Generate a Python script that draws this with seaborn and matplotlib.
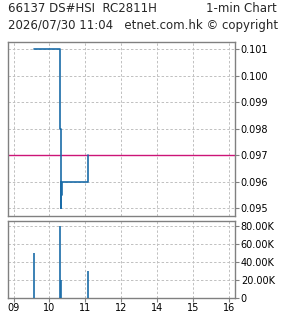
import matplotlib
matplotlib.use("Agg")
import matplotlib.pyplot as plt
import seaborn as sns
import pandas as pd
import numpy as np
from matplotlib.ticker import FuncFormatter, FixedLocator

sns.set_theme(style="white")
plt.rcParams['font.family'] = ['DejaVu Sans']

# ---- data ----
price_times = ["09:34", "10:17", "10:19", "10:19", "10:20", "10:21", "11:04", "11:04"]
price_values = [0.101, 0.098, 0.095, 0.096, 0.0955, 0.096, 0.097, 0.097]
vol_times = ["09:34", "10:18", "10:20", "11:04"]
vol_values = [50000, 80000, 20000, 30000]
prev_close = 0.097
x_tick_labels = ["09", "10", "11", "12", "14", "15", "16"]
price_ticks = [0.095, 0.096, 0.097, 0.098, 0.099, 0.100, 0.101]
vol_ticks = [0, 20000, 40000, 60000, 80000]

def to_pos(t):
    h, m = map(int, t.split(":"))
    pos = h - 9 + m / 60.0
    if h >= 13:
        pos -= 1
    return pos

price_df = pd.DataFrame({"x": [to_pos(t) for t in price_times], "price": price_values})
vol_df = pd.DataFrame({"x": [to_pos(t) for t in vol_times], "vol": vol_values})

blue = "#1a6ca8"
grid_c = "#c0c0c0"
spine_c = "#808080"

fig = plt.figure(figsize=(2.85, 3.18), dpi=100)
ax1 = fig.add_axes([8.3/285, 1-216/318, (235.3-8.3)/285, (216-42.3)/318])
ax2 = fig.add_axes([8.3/285, 1-297.7/318, (235.3-8.3)/285, (297.7-221)/318])

xlim = (-0.145, 6.18)

# price panel
ax1.axhline(prev_close, color="#cc1477", linewidth=1.0, zorder=2)
sns.lineplot(data=price_df, x="x", y="price", ax=ax1, color=blue,
             drawstyle="steps-post", linewidth=1.2, zorder=3, estimator=None, sort=False)
ax1.set_ylim(0.09471, 0.101264)
ax1.yaxis.set_major_locator(FixedLocator(price_ticks))
ax1.yaxis.set_major_formatter(FuncFormatter(lambda v, p: f"{v:.3f}"))

# volume panel
ax2.vlines(vol_df["x"], 0, vol_df["vol"], color=blue, linewidth=1.2, zorder=3)
ax2.set_ylim(0, 85200)
ax2.yaxis.set_major_locator(FixedLocator(vol_ticks))
ax2.yaxis.set_major_formatter(FuncFormatter(lambda v, p: "0" if v == 0 else f"{v/1000:.2f}K"))

for ax in (ax1, ax2):
    ax.set_xlim(*xlim)
    ax.set_xticks(range(len(x_tick_labels)))
    ax.grid(True, color=grid_c, linestyle=(0, (2.5, 2)), linewidth=0.7)
    for s in ax.spines.values():
        s.set_color(spine_c)
        s.set_linewidth(1.0)
    ax.yaxis.tick_right()
    ax.tick_params(axis='y', which='both', right=True, left=False, length=3, width=0.8,
                   color=spine_c, labelsize=7, pad=1, labelcolor='black')
    ax.set_xlabel("")
    ax.set_ylabel("")

ax1.tick_params(axis='x', bottom=False, labelbottom=False)
ax2.set_xticklabels(x_tick_labels)
ax2.tick_params(axis='x', bottom=True, length=3, width=0.8, color=spine_c,
                labelsize=7, pad=1, labelcolor='black')

fig.text(8/285, 1-8/318, "66137 DS#HSI  RC2811H", fontsize=8.5, va='center', ha='left')
fig.text(277/285, 1-8/318, "1-min Chart", fontsize=8.5, va='center', ha='right')
fig.text(8/285, 1-26/318, "2026/07/30 11:04   etnet.com.hk \u00a9 copyright",
         fontsize=8.5, va='center', ha='left')

fig.savefig("out.png", dpi=100)
